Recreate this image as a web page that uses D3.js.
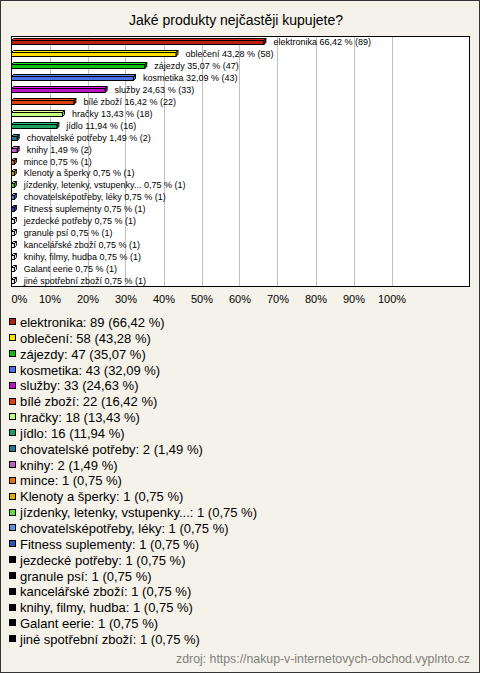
<!DOCTYPE html>
<html><head><meta charset="utf-8">
<script src="https://cdn.jsdelivr.net/npm/d3@7"></script>
<style>
html,body{margin:0;padding:0;background:#f4f2e9;}
svg{display:block;font-family:"Liberation Sans",Arial,sans-serif;}
</style></head>
<body>
<svg id="chart" width="480" height="673"></svg>
<script>
const title = "Jaké produkty nejčastěji kupujete?";
const categories = ["elektronika","oblečení","zájezdy","kosmetika","služby","bílé zboží","hračky","jídlo","chovatelské potřeby","knihy","mince","Klenoty a šperky","jízdenky, letenky, vstupenky...","chovatelsképotřeby, léky","Fitness suplementy","jezdecké potřeby","granule psí","kancelářské zboží","knihy, filmy, hudba","Galant eerie","jiné spotřební zboží"];
const counts = [89,58,47,43,33,22,18,16,2,2,1,1,1,1,1,1,1,1,1,1,1];
const percents = [66.42,43.28,35.07,32.09,24.63,16.42,13.43,11.94,1.49,1.49,0.75,0.75,0.75,0.75,0.75,0.75,0.75,0.75,0.75,0.75,0.75];
const colors = ["#b82010","#ffe000","#10c010","#4870e8","#c010c8","#e04010","#c0ff80","#20a060","#207890","#c060c0","#e07010","#e0b000","#60e040","#6090e0","#3050c0","#000000","#000000","#000000","#000000","#000000","#000000"];
const tickValues = [0,0.1,0.2,0.3,0.4,0.5,0.6,0.7,0.8,0.9,1.0];
const source = "zdroj: https://nakup-v-internetovych-obchod.vyplnto.cz";

const svg = d3.select("#chart");
const W = 480, H = 673;
svg.append("rect").attr("x",0.5).attr("y",0.5).attr("width",W-1).attr("height",H-1)
  .attr("fill","#f4f2e9").attr("stroke","#333").attr("stroke-width",1);

svg.append("text").attr("x",236).attr("y",24.5).attr("text-anchor","middle")
  .attr("font-size",14).attr("fill","#000").text(title);

const plot = {left:11, top:36, right:470, bottom:287};
svg.append("rect").attr("x",plot.left+0.5).attr("y",plot.top+0.5)
  .attr("width",plot.right-plot.left-1).attr("height",plot.bottom-plot.top-1)
  .attr("fill","#fff");

const x = d3.scaleLinear().domain([0,1]).range([plot.left+0.5, plot.left+380.5]);
const y = d3.scaleBand().domain(d3.range(categories.length)).range([plot.top, plot.bottom]);

// gridlines
svg.append("g").selectAll("line").data(tickValues.slice(1)).join("line")
  .attr("x1",d=>Math.round(x(d))+0.5).attr("x2",d=>Math.round(x(d))+0.5)
  .attr("y1",plot.top).attr("y2",plot.bottom)
  .attr("stroke","#c0c0c0").attr("stroke-width",1);

svg.append("rect").attr("x",plot.left+0.5).attr("y",plot.top+0.5)
  .attr("width",plot.right-plot.left-1).attr("height",plot.bottom-plot.top-1)
  .attr("fill","none").attr("stroke","#000").attr("stroke-width",1);

// axis
const axis = d3.axisBottom(x).tickValues(tickValues).tickSize(0).tickPadding(0)
  .tickFormat(d=>Math.round(d*100)+"%");
const ag = svg.append("g").attr("transform",`translate(0,${plot.bottom})`).call(axis);
ag.select(".domain").remove();
ag.selectAll("text").attr("font-size",11).attr("fill","#000").attr("dy",0).attr("y",16)
  .attr("font-family","'Liberation Sans',Arial,sans-serif");
ag.selectAll(".tick").filter(d=>d===0).select("text").attr("text-anchor","start").attr("x",-0.5);

// bars
const d = 2;
const bars = svg.append("g");
const fmt = v => v.toFixed(2).replace(".",",");
categories.forEach((c,i)=>{
  const x0 = x(0), x1 = x(percents[i]/100);
  const cy = Math.round(y(i)+y.bandwidth()/2)+0.5;
  const col = d3.color(colors[i]);
  const isBlack = colors[i]==="#000000";
  const lighter = isBlack ? "#fff" : col.brighter(0.6).formatHex();
  const darker = isBlack ? "#fff" : col.darker(0.6).formatHex();
  const g = bars.append("g").attr("stroke","#000").attr("stroke-width",1).attr("stroke-linejoin","miter");
  g.append("path").attr("d",`M${x0},${cy-2}L${x0+d},${cy-2-d}L${x1+d},${cy-2-d}L${x1},${cy-2}Z`).attr("fill",lighter);
  g.append("path").attr("d",`M${x1},${cy-2}L${x1+d},${cy-2-d}L${x1+d},${cy+2-d}L${x1},${cy+2}Z`).attr("fill",darker);
  g.append("rect").attr("x",x0).attr("y",cy-2).attr("width",x1-x0).attr("height",4).attr("fill",isBlack?"#fff":colors[i]);
  bars.append("text").attr("x",x1+9.5).attr("y",cy).attr("dy","0.33em")
    .attr("font-size",9).attr("fill","#000")
    .text(`${c} ${fmt(percents[i])} % (${counts[i]})`);
});

// legend
const ly = d3.scaleLinear().domain([0,categories.length-1]).range([322.3,639.3]);
const leg = svg.append("g");
categories.forEach((c,i)=>{
  const cy = ly(i);
  leg.append("rect").attr("x",9.5).attr("y",Math.round(cy-3)-0.5).attr("width",6).attr("height",6)
    .attr("fill",colors[i]).attr("stroke","#000").attr("stroke-width",1);
  leg.append("text").attr("x",20).attr("y",cy).attr("dy","0.36em")
    .attr("font-size",13).attr("fill","#000")
    .text(`${c}: ${counts[i]} (${fmt(percents[i])} %)`);
});

svg.append("text").attr("x",470).attr("y",663).attr("text-anchor","end")
  .attr("font-size",12.3).attr("fill","#808080").text(source);
</script>
</body></html>
